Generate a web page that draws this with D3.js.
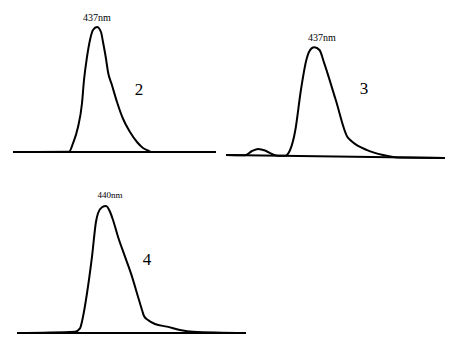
<!DOCTYPE html>
<html>
<head>
<meta charset="utf-8">
<script src="https://cdn.jsdelivr.net/npm/d3@7"></script>
<style>
  body { margin: 0; background: #fff; }
  svg { display: block; }
  .label-nm { font-family: "Liberation Serif", "DejaVu Serif", serif; font-size: 10px; }
  .label-num { font-family: "Liberation Serif", "DejaVu Serif", serif; font-size: 17px; }
</style>
</head>
<body>
<div id="chart"></div>
<script>
// Spectrum 2 (wavelength nm, relative intensity)
const wl2 = [353, 409, 413, 418, 422, 424, 427, 430, 433, 437, 441, 443, 446, 448, 452, 457, 463, 470, 477, 483, 488, 492, 556];
const int2 = [0, 0.2, 7, 20, 39, 57.6, 76, 89.6, 97.6, 100, 96, 88, 74.6, 64, 53.4, 40, 26.6, 16, 8, 3.2, 1.2, 0, 0];

// Spectrum 3 (small bump before the main band)
const wl3 = [350, 369, 376, 382, 389, 396, 402, 409, 414, 419, 424, 429, 434, 437, 442, 447, 459, 471, 476, 491, 507, 522, 569];
const int3 = [0, 0, 4, 5.9, 4.6, 1.5, 0, 0, 5.4, 23.8, 60.6, 88.2, 98.9, 100, 97.5, 85.3, 51.8, 18.3, 13.8, 6.3, 2, 0, 0];

// Spectrum 4
const wl4 = [351, 409, 414, 417, 421, 426, 430, 432, 436, 440, 444, 447, 452, 459, 466, 472, 476, 478, 482, 489, 501, 514, 527, 580];
const int4 = [0, 1, 3.7, 12.8, 31.3, 60.1, 87.6, 94.3, 99, 100, 95.5, 89, 75.8, 60.1, 44.4, 28.6, 18.1, 13.4, 10.2, 7.1, 5, 2.4, 1, 0];

const peakLabels = ["437nm", "437nm", "440nm"];
const sampleLabels = ["2", "3", "4"];

const width = 455;
const height = 338;

// Panel layout: baseline extent, baseline y, peak y, slight tilt of the scanned panel
const panels = [
  { wl: wl2, val: int2, x0: 13, x1: 216, y0: 152, yTop: 27, tilt: 0,
    nmDx: 0, nmY: 21, nmSize: 10, numX: 139, numY: 95 },
  { wl: wl3, val: int3, x0: 226, x1: 445, y0: 155, yTop: 46, tilt: 0.8,
    nmDx: 9, nmY: 41, nmSize: 10, numX: 364, numY: 94 },
  { wl: wl4, val: int4, x0: 17, x1: 246, y0: 333, yTop: 206, tilt: 0,
    nmDx: 4, nmY: 198, nmSize: 9, numX: 147, numY: 265 },
];

const svg = d3.select("#chart")
  .append("svg")
  .attr("width", width)
  .attr("height", height);

panels.forEach((p, i) => {
  const xScale = d3.scaleLinear()
    .domain(d3.extent(p.wl))
    .range([p.x0, p.x1]);
  const yScale = d3.scaleLinear()
    .domain([0, 100])
    .range([p.y0, p.yTop]);

  const g = svg.append("g")
    .attr("transform", `rotate(${p.tilt},${p.x0},${p.y0})`);

  // Baseline
  g.append("line")
    .attr("x1", xScale.range()[0])
    .attr("x2", xScale.range()[1])
    .attr("y1", yScale(0))
    .attr("y2", yScale(0))
    .attr("stroke", "#000")
    .attr("stroke-width", 2);

  const points = p.wl.map((w, j) => [w, p.val[j]]);
  const line = d3.line()
    .x((d) => xScale(d[0]))
    .y((d) => yScale(d[1]))
    .curve(d3.curveMonotoneX);

  g.append("path")
    .attr("d", line(points))
    .attr("fill", "none")
    .attr("stroke", "#000")
    .attr("stroke-width", 2)
    .attr("stroke-linejoin", "round");

  // Peak label
  const peak = points[d3.maxIndex(points, (d) => d[1])];
  svg.append("text")
    .attr("class", "label-nm")
    .attr("x", xScale(peak[0]) + p.nmDx)
    .attr("y", p.nmY)
    .attr("text-anchor", "middle")
    .style("font-size", p.nmSize + "px")
    .text(peakLabels[i]);

  svg.append("text")
    .attr("class", "label-num")
    .attr("x", p.numX)
    .attr("y", p.numY)
    .attr("text-anchor", "middle")
    .text(sampleLabels[i]);
});
</script>
</body>
</html>
